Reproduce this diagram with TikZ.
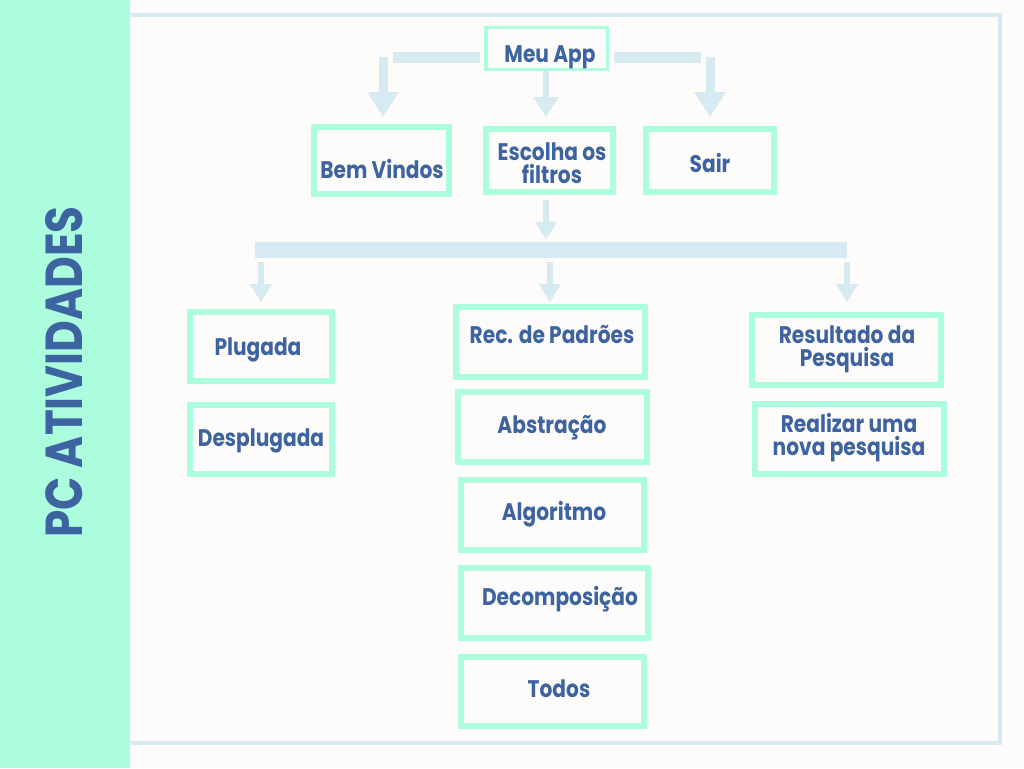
\documentclass[tikz,border=0pt]{standalone}
\usepackage{fontspec}
\setmainfont{Poppins}[FakeStretch=0.84]
\usetikzlibrary{arrows.meta}
\definecolor{mint}{HTML}{ABFDDE}
\definecolor{lblue}{HTML}{D6EAF2}
\definecolor{tblue}{HTML}{3D63A1}
\definecolor{bgc}{HTML}{FDFCFB}
\tikzset{
  box/.style={draw=mint, line width=6pt, inner sep=0pt, fill=bgc},
  lbl/.style={text=tblue, font=\bfseries\fontsize{24}{23}\selectfont, inner sep=0pt, anchor=base, align=center},
  bar/.style={draw=lblue, line width=11pt},
  bigarrow/.style={draw=lblue, line width=9pt, -{Triangle[width=30pt,length=25pt]}, color=lblue},
  midarrow/.style={draw=lblue, line width=6pt, -{Triangle[width=24pt,length=20pt]}, color=lblue},
  smallarrow/.style={draw=lblue, line width=5.5pt, -{Triangle[width=21pt,length=18pt]}, color=lblue},
}
\begin{document}
\begin{tikzpicture}[x=1pt,y=-1pt]
\useasboundingbox (0,0) rectangle (1024,768);
\fill[bgc] (0,0) rectangle (1024,768);
\draw[lblue, line width=4pt] (126,15) rectangle (1000,743);
\fill[mint] (0,0) rectangle (130,768);
\node[text=tblue, font=\bfseries\fontsize{52}{52}\selectfont, rotate=90, inner sep=0pt] (title) at (64,372) {PC ATIVIDADES};

% boxes
\node[box, draw=mint, line width=3.5pt, minimum width=121.5pt, minimum height=41.5pt] (app) at (546.5,48.5) {};
\node[box, minimum width=135pt, minimum height=67pt] (bv) at (381.5,160.5) {};
\node[box, minimum width=127pt, minimum height=63pt] (esc) at (549.5,160.5) {};
\node[box, minimum width=128pt, minimum height=63pt] (sair) at (710,160.5) {};
\node[box, minimum width=142pt, minimum height=69pt] (plug) at (261,346.5) {};
\node[box, minimum width=142pt, minimum height=69pt] (desp) at (261,439.5) {};
\node[box, minimum width=189pt, minimum height=70pt] (rec) at (550.5,342) {};
\node[box, minimum width=189pt, minimum height=70pt] (abs) at (552.5,427) {};
\node[box, minimum width=183pt, minimum height=70pt] (alg) at (552.5,515) {};
\node[box, minimum width=187pt, minimum height=70pt] (dec) at (554.5,603) {};
\node[box, minimum width=183pt, minimum height=69pt] (tod) at (552.5,691.5) {};
\node[box, minimum width=189pt, minimum height=70pt] (res) at (846.5,350) {};
\node[box, minimum width=189pt, minimum height=70pt] (rea) at (849.5,439) {};

% hub bar
\node[fill=lblue, inner sep=0pt, minimum width=592pt, minimum height=16pt] (hub) at (551,250) {};

% labels
\node[lbl] (tapp) at (550,63) {Meu App};
\node[lbl] (tbv) at (382,178) {Bem Vindos};
\node[lbl] (tesc) at (552,183) {Escolha os\\filtros};
\node[lbl] (tsair) at (710,172) {Sair};
\node[lbl] (tplug) at (258,355) {Plugada};
\node[lbl] (tdesp) at (261,446) {Desplugada};
\node[lbl] (trec) at (552,343) {Rec. de Padrões};
\node[lbl] (tabs) at (552,433) {Abstração};
\node[lbl] (talg) at (554,520) {Algoritmo};
\node[lbl] (tdec) at (560,605) {Decomposição};
\node[lbl] (ttod) at (559,697) {Todos};
\node[lbl] (tres) at (847,366) {Resultado da\\Pesquisa};
\node[lbl] (trea) at (849,455) {Realizar uma\\nova pesquisa};

% connectors
\coordinate (bl) at (393,57.5);
\coordinate (br) at (701,57.5);
\draw[bar, shorten >=4pt] (bl) -- (bl -| app.west);
\draw[bar, shorten <=5pt] (br -| app.east) -- (br);
\coordinate (al) at (383,57);
\coordinate (ar) at (710,57);
\draw[bigarrow, shorten >=7pt] (al) -- (al |- bv.north);
\draw[bigarrow, shorten >=9pt] (ar) -- (ar |- sair.north);
\draw[midarrow, shorten >=9pt] ([xshift=-0.5pt]app.south) -- ([xshift=-3.5pt]esc.north);
\draw[smallarrow, shorten <=5pt, shorten >=2pt] ([xshift=-3.5pt]esc.south) -- ([xshift=-3.5pt]esc.south |- hub.north);
\coordinate (d1) at (261,258);
\coordinate (d2) at (550,258);
\coordinate (d3) at (847,258);
\draw[smallarrow, shorten <=4pt, shorten >=7pt] (d1) -- (d1 |- plug.north);
\draw[smallarrow, shorten <=4pt, shorten >=2pt] (d2) -- (d2 |- rec.north);
\draw[smallarrow, shorten <=4pt, shorten >=10pt] (d3) -- (d3 |- res.north);
\end{tikzpicture}
\end{document}
